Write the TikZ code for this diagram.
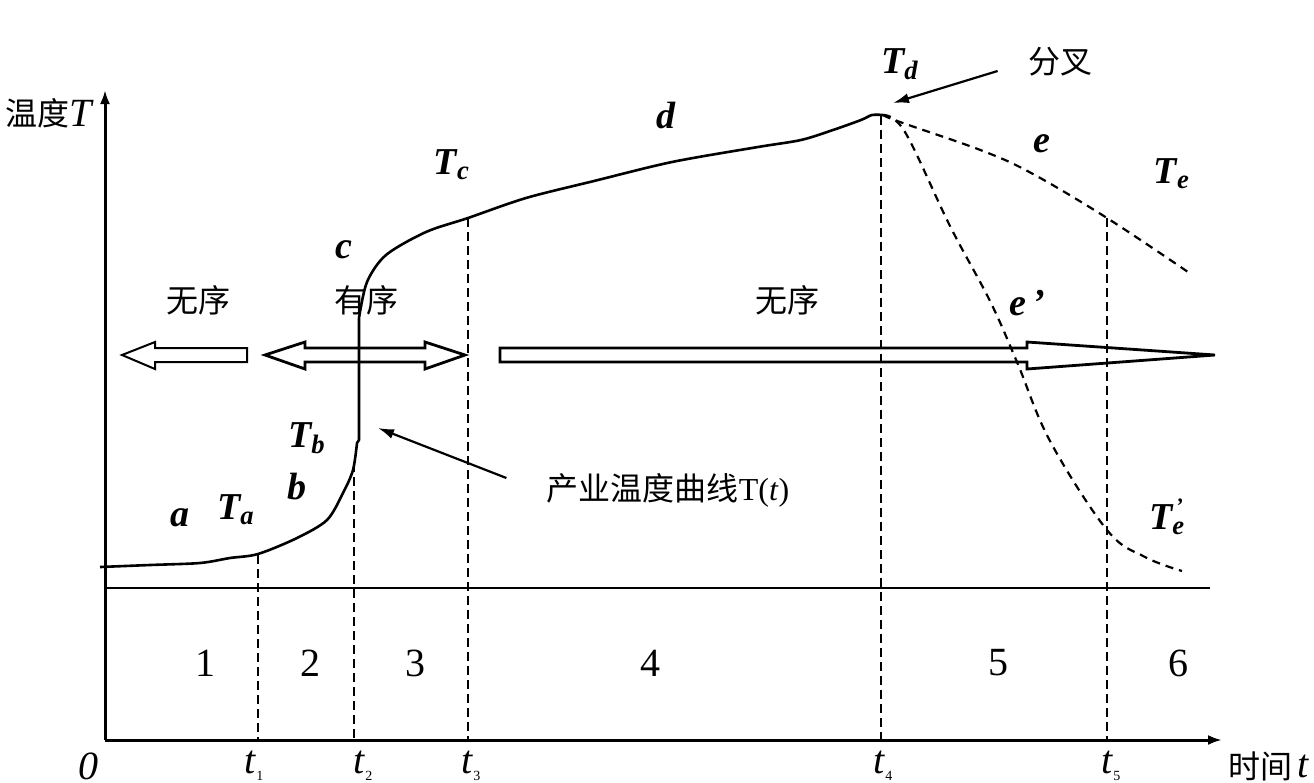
\documentclass[tikz,border=0pt]{standalone}
\usepackage{fontspec}
\setmainfont{Liberation Serif}
\newfontfamily\cjk{Noto Sans CJK SC}
\usetikzlibrary{arrows.meta, calc}

\newcommand\sublbl[2]{\textit{#1}\textsubscript{\textit{#2}}}
\newcommand\tlbl[1]{\textit{t}\raisebox{-0.4ex}{\fontsize{7}{7}\selectfont #1}}

\begin{document}
\begin{tikzpicture}[
  x=0.5pt, y=-0.5pt,
  >={Latex[length=7pt,width=5pt]},
  every node/.style={font=\fontsize{18}{20}\selectfont, inner sep=1pt},
  axis/.style={line width=1.5pt},
  curve/.style={line width=1.3pt, line join=round},
  guide/.style={line width=1.3pt, dash pattern=on 4.5pt off 2.5pt},
  branch/.style={line width=1.1pt, dash pattern=on 4pt off 3pt},
  block/.style={line width=1.4pt, line join=miter},
  pointer/.style={line width=1.1pt, -{Latex[length=8pt,width=5pt]}},
  cn/.style={font=\cjk\fontsize{16}{18}\selectfont},
  num/.style={font=\fontsize{20}{22}\selectfont},
  letter/.style={font=\fontsize{19}{21}\selectfont\bfseries\itshape}
]
\useasboundingbox (0,0) rectangle (1314,783);

% Axes
\coordinate (o) at (105,740);
\coordinate (xend) at (1222,740);
\coordinate (yend) at (105,90);
\draw[axis, ->] (o) -- (xend);
\draw[axis, ->] (o) -- (yend);
\coordinate (base0) at (105,588);
\coordinate (base1) at (1210,588);
\draw[line width=1.2pt] (base0) -- (base1);

% Points on the curve
\coordinate (k1) at (258,555);
\coordinate (k2) at (354,463);
\coordinate (k3) at (468,218);
\coordinate (k4) at (881,116);
\coordinate (k5) at (1107,218);
\coordinate (hit) at (359,430);

% Temperature curve
\draw[curve] plot[smooth, tension=0.5] coordinates {(100,567) (150,565) (200,563) (230,558) (258,554) (297,538) (327,520) (343,493) (353,470) (357,443)}
  -- (359,440) -- (359,318)
  -- plot[smooth, tension=0.5] coordinates {(359,318) (367,282) (386,255) (426,232) (468,218) (526,198) (594,181) (672,162) (758,147) (801,140) (833,130) (861,120) (872,115) (883,115)};

% Branches
\draw[branch] plot[smooth, tension=0.6] coordinates {(883,115) (900,122) (983,151) (1033,174) (1107,218) (1188,272)};
\draw[branch] plot[smooth, tension=0.6] coordinates {(883,115) (905,132) (950,226) (990,301) (1017,362) (1050,441) (1107,530) (1145,557) (1182,571)};

% Guide lines
\foreach \k in {k1,k2,k3,k4,k5}
  \draw[guide] (\k) -- (\k |- o);

% Block arrows
\draw[block, line width=1pt] (247,348) -- (155,348) -- (155,342) -- (122,355) -- (155,369) -- (155,362) -- (247,362) -- cycle;
\draw[block] (265,355) -- (305,342) -- (305,348) -- (425,348) -- (425,342) -- (465,355) -- (425,369) -- (425,362) -- (305,362) -- (305,369) -- cycle;
\draw[block] (500,348) -- (1027,348) -- (1027,342) -- (1215,355) -- (1027,369) -- (1027,362) -- (500,362) -- cycle;

% Axis labels
\node[cn] (ylab) at (37,113) {温度};
\node[font=\fontsize{20}{22}\selectfont\itshape] (ylabT) at (81,113) {T};
\node[num, font=\fontsize{20}{22}\selectfont\itshape] (zero) at (88,766) {0};
\node[num] (lt1) at (254,766) {\tlbl{1}};
\node[num] (lt2) at (363,766) {\tlbl{2}};
\node[num] (lt3) at (471,766) {\tlbl{3}};
\node[num] (lt4) at (883,766) {\tlbl{4}};
\node[num] (lt5) at (1111,766) {\tlbl{5}};
\node[cn] (xlab) at (1260,766) {时间};
\node[num, font=\fontsize{20}{22}\selectfont\itshape] (xlabt) at (1303,766) {t};

% Stages
\node[num] (s1) at (205,663) {1};
\node[num] (s2) at (310,663) {2};
\node[num] (s3) at (415,663) {3};
\node[num] (s4) at (650,663) {4};
\node[num] (s5) at (998,663) {5};
\node[num] (s6) at (1178,663) {6};

% Curve letters
\node[letter] (la) at (180,518) {a};
\node[letter] (lTa) at (236,510) {\sublbl{T}{a}};
\node[letter] (lb) at (297,487) {b};
\node[letter] (lTb) at (307,438) {\sublbl{T}{b}};
\node[letter] (lc) at (344,250) {c};
\node[letter] (lTc) at (452,165) {\sublbl{T}{c}};
\node[letter] (ld) at (666,115) {d};
\node[letter] (lTd) at (900,64) {\sublbl{T}{d}};
\node[letter] (le) at (1042,144) {e};
\node[letter] (lTe) at (1172,174) {\sublbl{T}{e}};
\node[letter] (le2) at (1027,303) {e\,’};
\node[letter] (lTe2) at (1166,517) {\textit{T}\textsubscript{\textit{e}}\hspace{-0.25em}\raisebox{0.9ex}{\fontsize{11}{11}\selectfont ’}};

% Order labels
\node[cn] (dis1) at (198,300) {无序};
\node[cn] (ord) at (366,300) {有序};
\node[cn] (dis2) at (787,300) {无序};

% Pointers
\node[cn] (fork) at (1060,62) {分叉};
\node[cn] (name) at (668,490) {产业温度曲线\fontspec{Liberation Serif}T(\textit{t})};
\draw[pointer] (fork.west) ++(-28,9) coordinate (f0) (f0) -- ($(k4)+(12,-13)$);
\draw[pointer] (name.west) ++(-38,-12) coordinate (n0) (n0) -- ($(hit)+(19,-2)$);

\end{tikzpicture}
\end{document}
